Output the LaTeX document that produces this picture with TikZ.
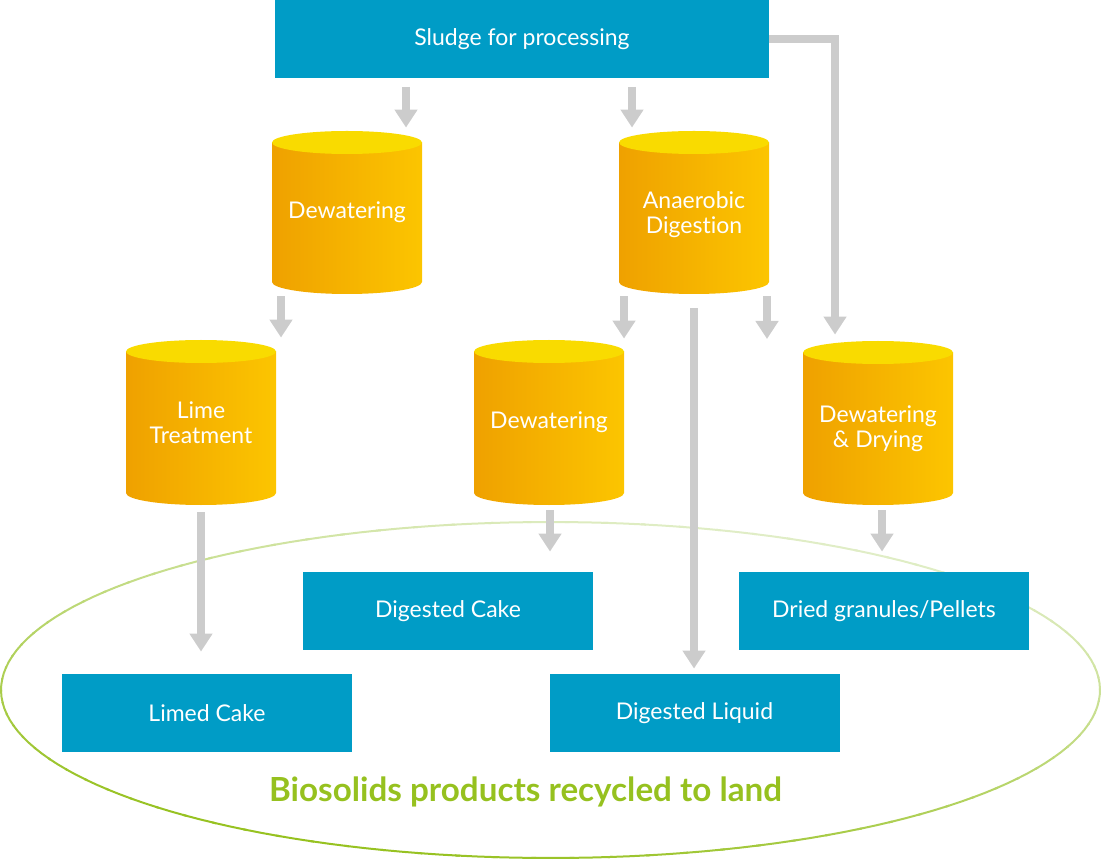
\documentclass[tikz,border=0pt]{standalone}
\usepackage{fontspec}
\setmainfont{Lato}[Ligatures=NoCommon]
\usepackage{tikz}
\usetikzlibrary{arrows.meta,calc}
\usepackage{xcolor}

\definecolor{boxblue}{RGB}{0,156,198}
\definecolor{drumL}{RGB}{239,161,0}
\definecolor{drumR}{RGB}{252,197,0}
\definecolor{drumtop}{RGB}{249,219,0}
\definecolor{flowgray}{RGB}{204,204,204}
\definecolor{ringlight}{RGB}{224,237,198}
\definecolor{ringdark}{RGB}{150,193,31}

% tank: [label options] name, x, top, bottom, label
\newcommand{\drum}[6][]{%
  \shade[left color=drumL,right color=drumR]
    ({#3-75},{#4+11.5}) -- ({#3-75},{#5-12})
    arc[start angle=180,end angle=0,x radius=75,y radius=12]
    -- ({#3+75},{#4+11.5}) -- cycle;
  \fill[drumtop] (#3,{#4+11.5}) ellipse[x radius=75,y radius=11.5];
  \node[drumbody,minimum height={(#5-#4)*0.5pt}] (#2) at (#3,{(#4+#5)/2}) {};
  \node[drumlabel,#1] (#2-text) at (#2) {#6};
}

\begin{document}
\begin{tikzpicture}[x=0.5pt,y=-0.5pt,
  box/.style={fill=boxblue,text=white,minimum width=145pt,minimum height=39pt,
    inner sep=0pt,font=\fontsize{11.5pt}{12.4pt}\selectfont},
  drumbody/.style={minimum width=75pt,inner sep=0pt},
  drumlabel/.style={text=white,inner sep=0pt,align=center,
    font=\fontsize{11.5pt}{12.4pt}\selectfont},
  flow/.style={draw=flowgray,line width=4pt,-{Triangle[width=11pt,length=9pt]}},
  rim/.style={line width=1pt}]
  \useasboundingbox (0,0) rectangle (1101,860);

  % Outer ring, light at top right, dark at bottom left
  \foreach \a in {0,4,...,356}{
    \pgfmathtruncatemacro\d{50*(1-cos(\a-60))}
    \draw[rim,ringdark!\d!ringlight]
      plot[domain=\a:\a+4.5,samples=3] ({550.5+549.5*cos(\x)},{690-168*sin(\x)});
  }
  \node[font=\fontsize{16.6pt}{18pt}\selectfont\bfseries,text=ringdark] (land) at (525.5,792)
    {Biosolids products recycled to land};

  % Tanks
  \drum{dew}{347}{131}{294}{Dewatering}
  \drum[yshift=-1pt]{digest}{694}{131}{294}{Anaerobic\\Digestion}
  \drum{lime}{201}{340}{505}{Lime\\Treatment}
  \drum{dewb}{549}{340}{505}{Dewatering}
  \drum[yshift=-3pt]{dry}{878}{341}{505}{Dewatering\\\& Drying}

  % Boxes
  \node[box,minimum width=247pt] (sludge) at (522,39) {Sludge for processing};
  \node[box] (cake) at (448,611) {Digested Cake};
  \node[box] (pellets) at (884,611) {Dried granules/Pellets};
  \node[box] (limed) at (207,713) {Limed Cake};
  \node[box] (liquid) at (694.5,713) {Digested Liquid};
  \coordinate (loose) at (767,339);

  % Arrows
  \draw[flow,shorten <=4.2pt,shorten >=1.5pt] (406,0 |- sludge.south) -- (406,0 |- dew.north);
  \draw[flow,shorten <=4.2pt,shorten >=1.5pt] (632,0 |- sludge.south) -- (632,0 |- digest.north);
  \draw[flow,shorten >=3pt] (sludge.east) -| (835,0 |- dry.north);
  \draw[flow,shorten <=1pt,shorten >=1pt] (281,0 |- dew.south) -- (281,0 |- lime.north);
  \draw[flow,shorten <=1pt,shorten >=0.5pt] (624,0 |- digest.south) -- (624,0 |- dewb.north);
  \draw[flow,shorten <=1pt] (767,0 |- digest.south) -- (loose);
  \draw[flow,shorten <=7pt,shorten >=2.5pt] (694,0 |- digest.south) -- (694,0 |- liquid.north);
  \draw[flow,shorten <=3.5pt,shorten >=11pt] (201,0 |- lime.south) -- (201,0 |- limed.north);
  \draw[flow,shorten <=2.5pt,shorten >=10pt] (550,0 |- dewb.south) -- (550,0 |- cake.north);
  \draw[flow,shorten <=2.5pt,shorten >=10pt] (882,0 |- dry.south) -- (882,0 |- pellets.north);
\end{tikzpicture}
\end{document}
